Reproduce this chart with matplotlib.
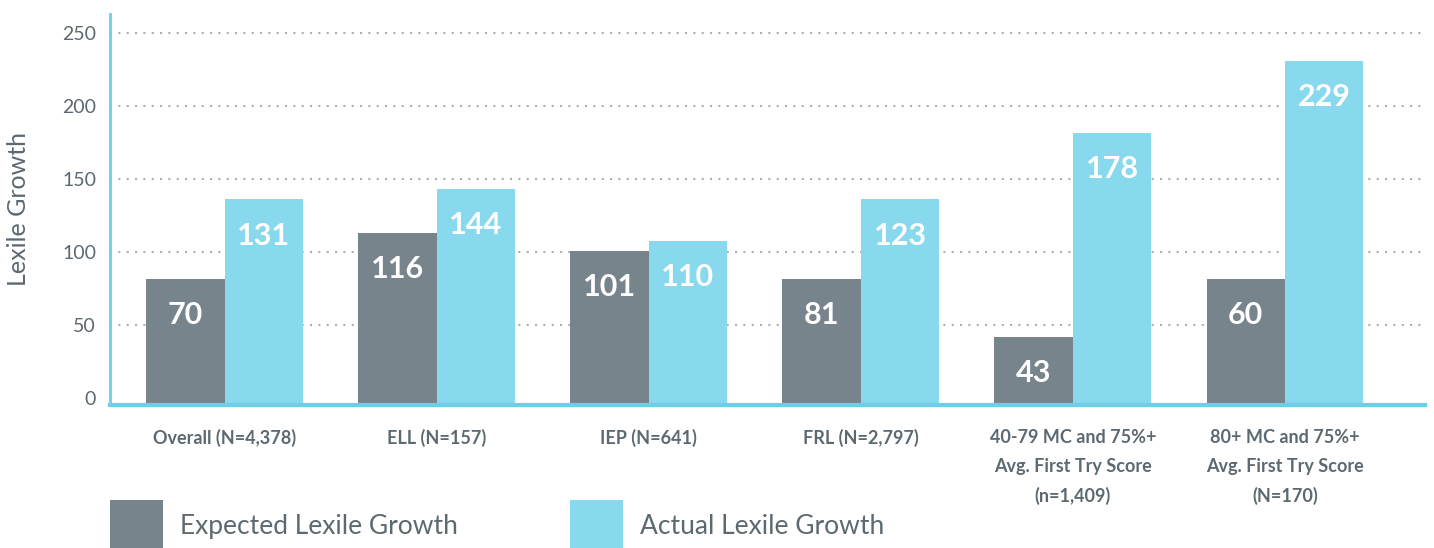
import numpy as np
from matplotlib import pyplot as plt

# categories and values (bar heights as drawn, labels as printed)
groups = ['Overall (N=4,378)', 'ELL (N=157)', 'IEP (N=641)', 'FRL (N=2,797)',
          '40-79 MC and 75%+\nAvg. First Try Score\n(n=1,409)',
          '80+ MC and 75%+\nAvg. First Try Score\n(N=170)']
expected_heights = [81.5, 113, 101, 81.5, 42, 81.5]
actual_heights = [136, 143, 107.5, 136, 181.5, 231]
expected_labels = [70, 116, 101, 81, 43, 60]
actual_labels = [131, 144, 110, 123, 178, 229]

gray = '#78848b'
blue = '#88d8ee'
axis_blue = '#6fcde8'
text_gray = '#5d6970'

plt.rcParams['font.family'] = ['Lato', 'DejaVu Sans']

fig = plt.figure(figsize=(14.34, 5.48), dpi=100)
ax = fig.add_axes([110 / 1434, 1 - 405 / 548, 1315 / 1434, 391 / 548])

y0 = -4.8  # bars sit on the axis line, a little below zero
x = np.arange(len(groups))
w = 0.37
b1 = ax.bar(x - w / 2, np.array(expected_heights) - y0, w, bottom=y0,
            color=gray, zorder=3, label='Expected Lexile Growth')
b2 = ax.bar(x + w / 2, np.array(actual_heights) - y0, w, bottom=y0,
            color=blue, zorder=3, label='Actual Lexile Growth')

# value labels inside the bars
for bars, labels in ((b1, expected_labels), (b2, actual_labels)):
    for rect, lab in zip(bars, labels):
        top = rect.get_y() + rect.get_height()
        ax.annotate(str(lab), (rect.get_x() + rect.get_width() / 2, top),
                    xytext=(0, -26), textcoords='offset points',
                    ha='center', va='center', color='white',
                    fontsize=22, fontweight='bold', zorder=4)

ax.set_xlim(-0.54, 5.66)
ax.set_ylim(y0, 263)
ax.set_yticks([0, 50, 100, 150, 200, 250])
ax.set_xticks(x)
ax.set_xticklabels(groups, fontsize=13, fontweight='bold', color=text_gray,
                   linespacing=1.85, va='top')
ax.tick_params(axis='x', length=0, pad=17)
ax.tick_params(axis='y', length=0, pad=10, labelsize=14, labelcolor=text_gray)

ax.yaxis.grid(True, color='#a9afb3', linestyle=(0, (1, 3)), linewidth=1.5, zorder=0)
ax.set_axisbelow(True)
ax.yaxis.get_gridlines()[0].set_visible(False)
# the zero label sits on the axis line
ax.get_yticklabels()[0].set_y(y0 / 2)

for side in ('top', 'right'):
    ax.spines[side].set_visible(False)
ax.spines['left'].set_color(axis_blue)
ax.spines['left'].set_linewidth(2)
ax.spines['bottom'].set_color(axis_blue)
ax.spines['bottom'].set_linewidth(3)
ax.spines['bottom'].set_zorder(5)

ax.set_ylabel('Lexile Growth', fontsize=18, color=text_gray)
ax.yaxis.set_label_coords(-0.061, 0.5)

fig.legend(handles=[b1, b2], loc='upper left',
           bbox_to_anchor=(110 / 1434, 1 - 500 / 548), frameon=False,
           ncol=2, handlelength=2.0, handleheight=2.6,
           handletextpad=0.65, columnspacing=4.27, borderpad=0, borderaxespad=0,
           labelcolor=text_gray, prop={'size': 19})

plt.savefig('out.png', dpi=100)
